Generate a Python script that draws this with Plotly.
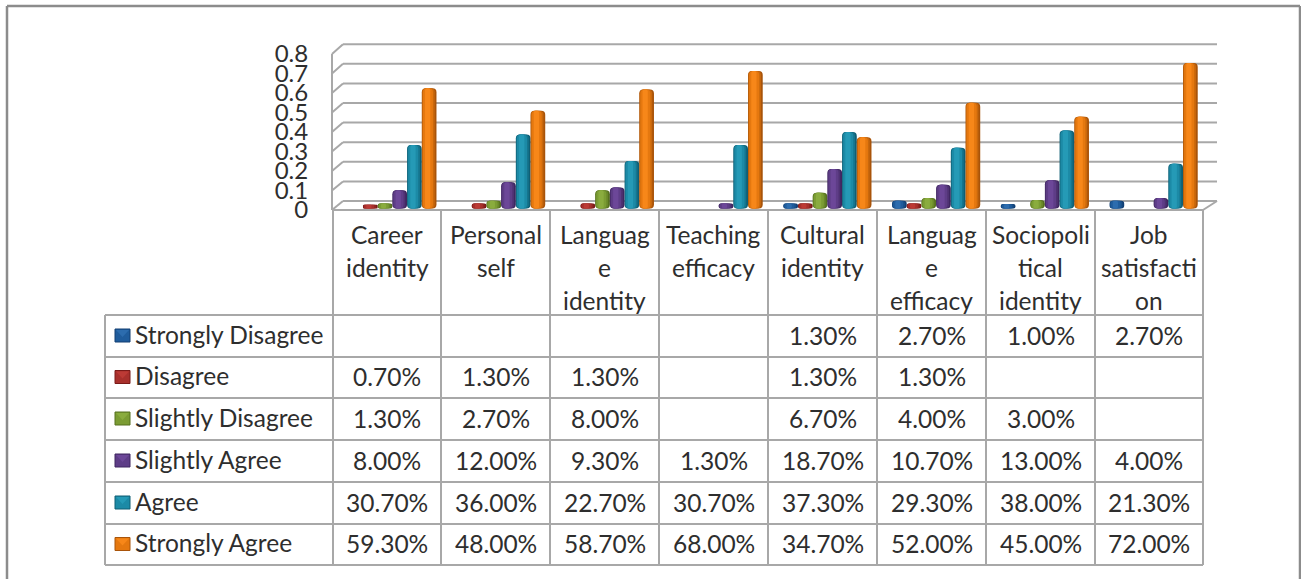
import plotly.graph_objects as go

W, H = 1301, 579

categories = ["Career identity", "Personal self", "Language identity", "Teaching efficacy",
              "Cultural identity", "Language efficacy", "Sociopolitical identity", "Job satisfaction"]
header_lines = [["Career", "identity"], ["Personal", "self"], ["Languag", "e", "identity"],
                ["Teaching", "efficacy"], ["Cultural", "identity"], ["Languag", "e", "efficacy"],
                ["Sociopoli", "tical", "identity"], ["Job", "satisfacti", "on"]]
series_names = ["Strongly Disagree", "Disagree", "Slightly Disagree", "Slightly Agree", "Agree", "Strongly Agree"]
strongly_disagree = [None, None, None, None, 1.3, 2.7, 1.0, 2.7]
disagree = [0.7, 1.3, 1.3, None, 1.3, 1.3, None, None]
slightly_disagree = [1.3, 2.7, 8.0, None, 6.7, 4.0, 3.0, None]
slightly_agree = [8.0, 12.0, 9.3, 1.3, 18.7, 10.7, 13.0, 4.0]
agree = [30.7, 36.0, 22.7, 30.7, 37.3, 29.3, 38.0, 21.3]
strongly_agree = [59.3, 48.0, 58.7, 68.0, 34.7, 52.0, 45.0, 72.0]
series_values = [strongly_disagree, disagree, slightly_disagree, slightly_agree, agree, strongly_agree]
y_ticks = [0, 0.1, 0.2, 0.3, 0.4, 0.5, 0.6, 0.7, 0.8]

dark = ["#123f73", "#7a1a18", "#56701f", "#3f2760", "#0f5f75", "#a9540a"]
deep = ["#18508a", "#922522", "#698829", "#4f3273", "#15758e", "#c9680c"]
mid = ["#1f5c9c", "#a8302c", "#7b9c33", "#5e3d87", "#1c8aa6", "#e5780f"]
light = ["#2c6cae", "#bc3a35", "#8aac3e", "#6c4798", "#259ab6", "#f78719"]

GRID = "#a8a8a8"
FRAME = "#8c8c8c"
TEXT = "#2e2e2e"
FONT = "Lato"

fx = lambda p: p / W
fy = lambda p: 1 - p / H

fig = go.Figure()
BAR_W = 14.7 / 108.75
FOOT = 0.012
layers = [(0.0, 1.0, dark), (0.03, 0.85, deep), (0.08, 0.68, mid), (0.22, 0.36, light)]
for i, (name, vals) in enumerate(zip(series_names, series_values)):
    for left, frac, cols in layers:
        fig.add_bar(
            x=categories,
            y=[None if v is None else v / 100 + FOOT for v in vals],
            base=-FOOT,
            name=name,
            showlegend=False,
            width=BAR_W * frac,
            offset=(-3 + i + left) * BAR_W,
            marker=dict(color=cols[i], line_width=0, cornerradius=4),
            hoverinfo="skip",
        )
fig.add_scatter(x=[categories[0]], y=[0], yaxis="y2", mode="markers",
                marker=dict(opacity=0), showlegend=False, hoverinfo="skip")

shapes = []
def line(x0, y0, x1, y1, color=GRID, width=2, layer="below"):
    shapes.append(dict(type="line", xref="paper", yref="paper", x0=fx(x0), y0=fy(y0), x1=fx(x1), y1=fy(y1),
                       line=dict(color=color, width=width), layer=layer))

# outer frame
line(7, 6, 1300, 6, FRAME, 2.5)
line(7, 6, 7, 579, FRAME, 2.5)
line(1300, 6, 1300, 579, FRAME, 2.5)

# walls
for t in y_ticks:
    yb = 201 - 196 * t
    yf = 210 - 195 * t
    line(343, yb, 1217, yb)
    line(332, yf, 343, yb)
line(332, 54, 332, 210)
line(1203, 210, 1217, 201)

# table grid
col_x = [333, 441, 550, 659, 768, 877, 986, 1095, 1203]
row_y = [315, 357, 398, 440, 482, 524, 565]
line(333, 210, 1203, 210)
for x in col_x:
    line(x, 210, x, 565)
line(105, 315, 105, 565)
for y in row_y:
    line(105, y, 1203, y)

annotations = []
def label(x, y, s, size=24.5, anchor="center"):
    annotations.append(dict(xref="paper", yref="paper", x=fx(x), y=fy(y), text=s, showarrow=False,
                            xanchor=anchor, yanchor="middle", font=dict(family=FONT, size=size, color=TEXT)))

line_y = [235, 267, 300]
for c, lines in enumerate(header_lines):
    cx = (col_x[c] + col_x[c + 1]) / 2
    for j, s in enumerate(lines):
        label(cx, line_y[j], s)

for r, (name, vals) in enumerate(zip(series_names, series_values)):
    cy = (row_y[r] + row_y[r + 1]) / 2
    label(133, cy - 2, name, 24.5, "left")
    # legend key
    kx0, kx1, ky0, ky1 = 115, 130, cy - 7, cy + 6
    shapes.append(dict(type="rect", xref="paper", yref="paper", x0=fx(kx0), x1=fx(kx1), y0=fy(ky0), y1=fy(ky1),
                       fillcolor=mid[r], line=dict(color=dark[r], width=1), layer="above"))
    shapes.append(dict(type="path", xref="paper", yref="paper",
                       path=f"M {fx(kx0+1)} {fy(ky0+1)} L {fx(kx1-1)} {fy(ky0+1)} L {fx((kx0+kx1)/2)} {fy(ky1-5)} Z",
                       fillcolor=light[r], line_width=0, layer="above"))
    for c, v in enumerate(vals):
        if v is not None:
            label((col_x[c] + col_x[c + 1]) / 2, cy - 1, f"{v:.2f}%")

fig.update_layout(
    width=W, height=H, autosize=False,
    margin=dict(l=0, r=0, t=0, b=0, pad=0, autoexpand=False),
    paper_bgcolor="white", plot_bgcolor="rgba(0,0,0,0)",
    barmode="overlay",
    shapes=shapes, annotations=annotations,
    xaxis=dict(domain=[fx(338), fx(1208)], range=[-0.5, 7.5], type="category", categoryorder="array",
               categoryarray=categories, visible=False, fixedrange=True),
    yaxis=dict(domain=[fy(210), fy(47.2)], range=[-0.02, 0.8], visible=False, fixedrange=True),
    yaxis2=dict(domain=[fy(210), fy(54)], range=[0, 0.8], anchor="free", position=fx(332), side="left",
                tickvals=y_ticks, ticktext=[f"{t:g}" for t in y_ticks],
                ticks="outside", ticklen=19, tickcolor="rgba(0,0,0,0)",
                tickfont=dict(family=FONT, size=24, color=TEXT),
                showgrid=False, zeroline=False, showline=False, fixedrange=True),
)
fig.write_html("out.html", config=dict(displayModeBar=False),
               post_script="document.documentElement.style.margin='0';document.body.style.margin='0';document.body.style.overflow='hidden';")
